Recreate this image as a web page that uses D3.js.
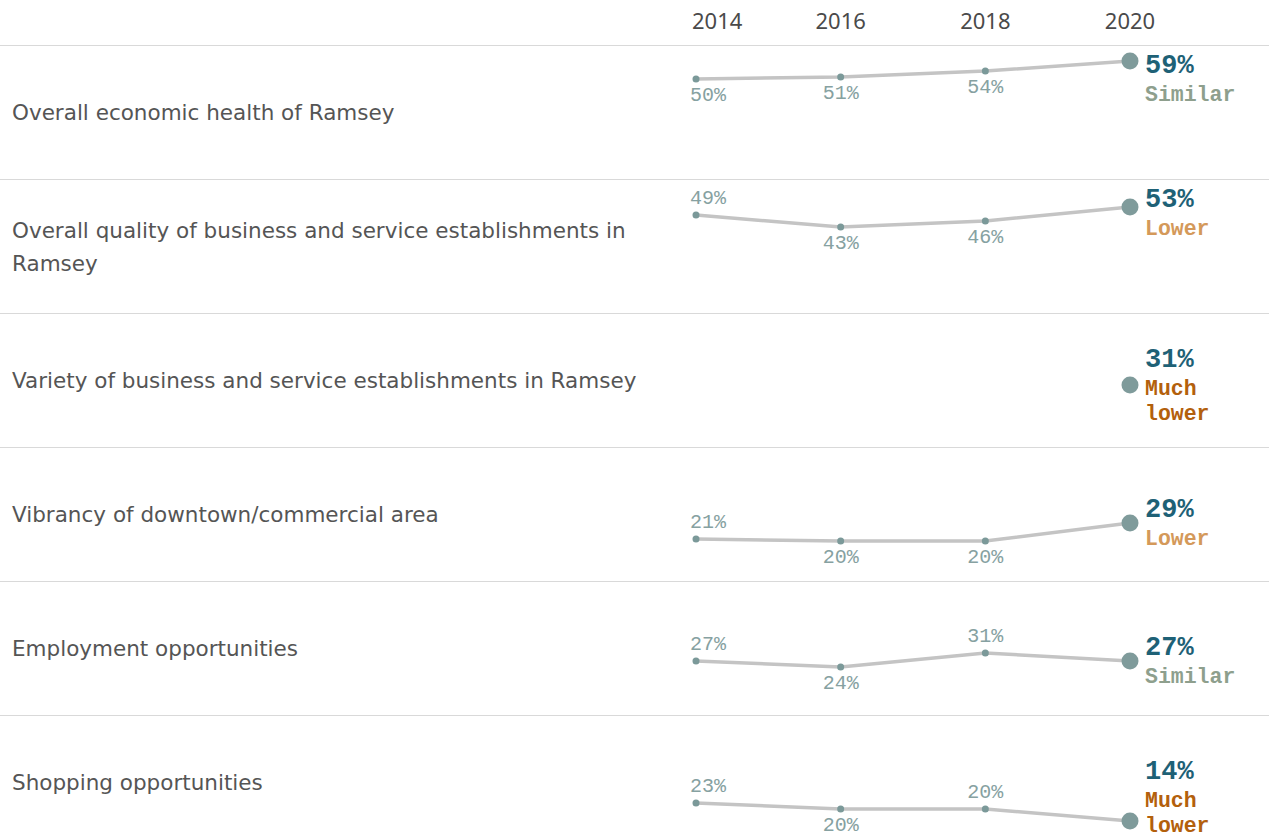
<!DOCTYPE html>
<html>
<head>
<meta charset="utf-8">
<script src="https://cdn.jsdelivr.net/npm/d3@7"></script>
<style>
body{margin:0;background:#fff;overflow:hidden;}
svg{display:block;}
</style>
</head>
<body>
<svg id="chart" width="1269" height="837"></svg>
<script>
//data----------------------------------------------------------
var categories = [
	"Overall economic health of Ramsey",
	"Overall quality of business and service establishments in Ramsey",
	"Variety of business and service establishments in Ramsey",
	"Vibrancy of downtown/commercial area",
	"Employment opportunities",
	"Shopping opportunities"
];
var years = [2014, 2016, 2018, 2020];
var v2014 = [50, 49, null, 21, 27, 23];
var v2016 = [51, 43, null, 20, 24, 20];
var v2018 = [54, 46, null, 20, 31, 20];
var v2020 = [59, 53, 31, 29, 27, 14];
var comparison = ["Similar", "Lower", "Much lower", "Lower", "Similar", "Much lower"];

var compColor = {"Similar":"#8e9f8d", "Lower":"#d4995a", "Much lower":"#b3600c"};

//layout
var W = 1269, H = 837;
var headerH = 45, rowH = 134;
var paneLeft = 690;

var svg = d3.select("#chart");

var x = d3.scaleLinear()
	.domain([2014, 2020])
	.range([696, 1130]);

//same value scale inside every row
var y = d3.scaleLinear()
	.domain([0, 66.5])
	.range([rowH - 1, 0]);

//header years
var head = svg.append("g").attr("class", "header");
head.selectAll("text")
	.data(years)
	.enter()
	.append("text")
	.text(function(d){ return d; })
	.attr("y", 29)
	.attr("text-anchor", "middle")
	.style("font-family", "'Noto Sans', sans-serif")
	.style("font-size", "22px")
	.style("fill", "#4a4a4a")
	.attr("x", function(d){
		var w = this.getComputedTextLength();
		return Math.max(x(d), paneLeft + 2 + w / 2);
	});

//separator lines
svg.append("g").selectAll("line")
	.data(d3.range(categories.length))
	.enter()
	.append("line")
	.attr("x1", 0)
	.attr("x2", W)
	.attr("y1", function(i){ return headerH + i * rowH + 0.5; })
	.attr("y2", function(i){ return headerH + i * rowH + 0.5; })
	.style("stroke", "#d9d9d9")
	.style("stroke-width", 1);

//wraps a string into lines no wider than maxW
function wrapLines(textSel, str, maxW){
	var words = str.split(" ");
	var lines = [];
	var cur = "";
	words.forEach(function(w){
		var test = cur ? cur + " " + w : w;
		textSel.text(test);
		if (cur && textSel.node().getComputedTextLength() > maxW) {
			lines.push(cur);
			cur = w;
		} else {
			cur = test;
		}
	});
	lines.push(cur);
	textSel.text(null);
	return lines;
}

var rows = svg.selectAll("g.row")
	.data(categories)
	.enter()
	.append("g")
	.attr("class", "row")
	.attr("transform", function(d, i){ return "translate(0," + (headerH + 1 + i * rowH) + ")"; });

rows.each(function(name, i){
	var g = d3.select(this);

	//category label, wrapped and centred vertically
	var lab = g.append("text")
		.style("font-family", "'DejaVu Sans', sans-serif")
		.style("font-size", "21.5px")
		.style("fill", "#555");
	var lines = wrapLines(lab, name, 665);
	var lh = 33;
	var top = rowH / 2 - (lines.length - 1) * lh / 2;
	lab.selectAll("tspan")
		.data(lines)
		.enter()
		.append("tspan")
		.attr("x", 12)
		.attr("y", function(d, k){ return top + k * lh + 7; })
		.text(function(d){ return d; });

	var vals = [v2014[i], v2016[i], v2018[i], v2020[i]];
	var pts = years.map(function(yr, k){ return {year: yr, v: vals[k], k: k}; })
		.filter(function(p){ return p.v != null; });

	var line = d3.line()
		.x(function(p){ return x(p.year); })
		.y(function(p){ return y(p.v); });

	if (pts.length > 1) {
		g.append("path")
			.datum(pts)
			.attr("d", line)
			.style("fill", "none")
			.style("stroke", "#c4c4c4")
			.style("stroke-width", 3.5);
	}

	var past = pts.filter(function(p){ return p.year != 2020; });
	var last = pts.filter(function(p){ return p.year == 2020; });

	g.selectAll("circle.small")
		.data(past)
		.enter()
		.append("circle")
		.attr("class", "small")
		.attr("cx", function(p){ return x(p.year); })
		.attr("cy", function(p){ return y(p.v); })
		.attr("r", 3.5)
		.style("fill", "#7b9999");

	g.selectAll("circle.big")
		.data(last)
		.enter()
		.append("circle")
		.attr("class", "big")
		.attr("cx", function(p){ return x(p.year); })
		.attr("cy", function(p){ return y(p.v); })
		.attr("r", 8.5)
		.style("fill", "#7f9b9b");

	//small value labels: above when the next value is lower
	g.selectAll("text.val")
		.data(past)
		.enter()
		.append("text")
		.attr("class", "val")
		.text(function(p){ return p.v + "%"; })
		.attr("text-anchor", "middle")
		.style("font-family", "'Liberation Mono', monospace")
		.style("font-size", "20px")
		.style("fill", "#86a1a1")
		.attr("x", function(p){
			var w = this.getComputedTextLength();
			return Math.max(x(p.year), paneLeft + w / 2);
		})
		.attr("y", function(p){
			var nxt = vals[p.k + 1];
			var above = nxt != null && p.v > nxt;
			return y(p.v) + (above ? -11 : 22);
		});

	//2020 label block
	var cy = y(v2020[i]);
	var status = comparison[i] == "Much lower" ? ["Much", "lower"] : [comparison[i]];
	var blockH = 30 + 25 * (status.length - 1);
	var first = cy - blockH / 2;
	if (first < 18) first = 18;
	if (first + blockH > 109) first = 109 - blockH;

	g.append("text")
		.attr("x", 1145)
		.attr("y", first + 9)
		.text(v2020[i] + "%")
		.style("font-family", "'Liberation Mono', monospace")
		.style("font-weight", "bold")
		.style("font-size", "27px")
		.style("fill", "#1e6176");

	g.selectAll("text.comp")
		.data(status)
		.enter()
		.append("text")
		.attr("class", "comp")
		.attr("x", 1145)
		.attr("y", function(d, k){ return first + 30 + k * 25 + 7; })
		.text(function(d){ return d; })
		.style("font-family", "'Liberation Mono', monospace")
		.style("font-weight", "bold")
		.style("font-size", "21.5px")
		.style("fill", compColor[comparison[i]]);
});
</script>
</body>
</html>
